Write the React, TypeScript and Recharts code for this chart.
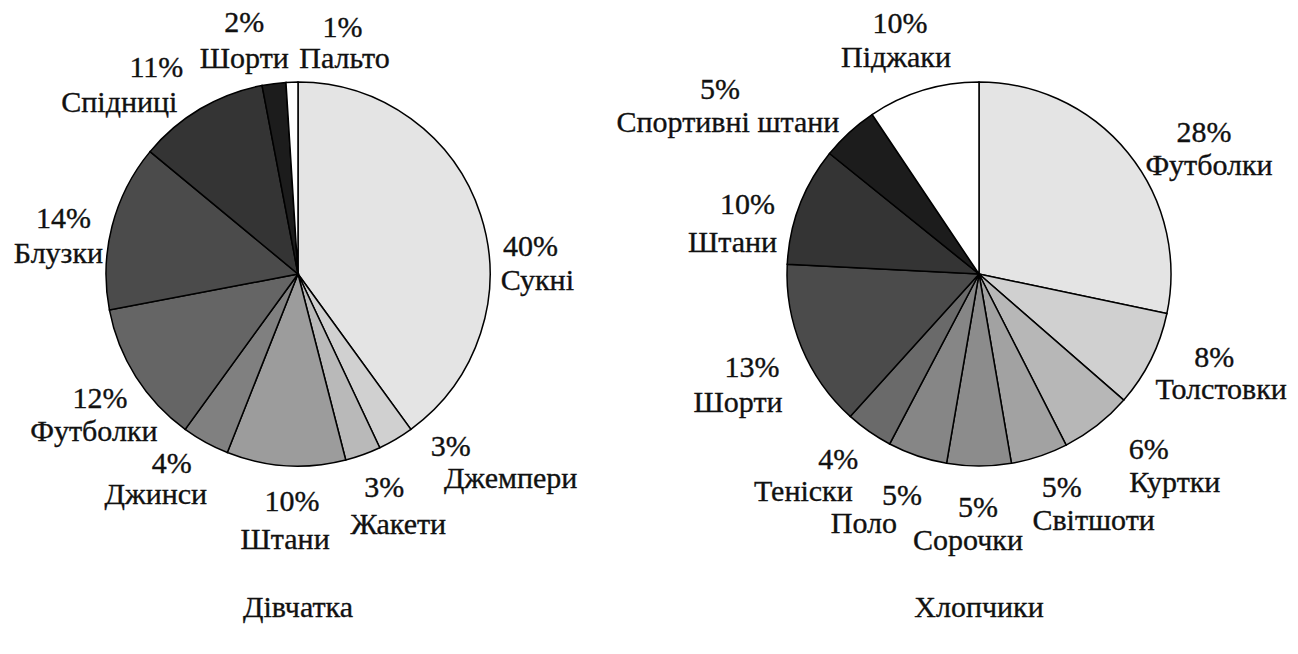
import React from 'react';
import { PieChart, Pie, Cell } from 'recharts';

// ---- Data: girls (Дівчатка) ----
const girlsCategories = ['Сукні', 'Джемпери', 'Жакети', 'Штани', 'Джинси', 'Футболки', 'Блузки', 'Спідниці', 'Шорти', 'Пальто'];
const girlsValues = [40, 3, 3, 10, 4, 12, 14, 11, 2, 1];
const girlsPercentLabels = ['40%', '3%', '3%', '10%', '4%', '12%', '14%', '11%', '2%', '1%'];

// ---- Data: boys (Хлопчики) ----
const boysCategories = ['Футболки', 'Толстовки', 'Куртки', 'Світшоти', 'Сорочки', 'Поло', 'Теніски', 'Шорти', 'Штани', 'Спортивні штани', 'Піджаки'];
const boysValues = [28.3, 8.1, 6.1, 4.8, 5.4, 5.0, 4.0, 14.1, 10.0, 4.8, 9.4];
const boysPercentLabels = ['28%', '8%', '6%', '5%', '5%', '5%', '4%', '13%', '10%', '5%', '10%'];

const chartTitles = ['Дівчатка', 'Хлопчики'];

// ---- Styles ----
const girlsColors = ['#e4e4e4', '#d0d0d0', '#b9b9b9', '#9c9c9c', '#808080', '#656565', '#4b4b4b', '#343434', '#1c1c1c', '#ffffff'];
const boysColors = ['#e4e4e4', '#d0d0d0', '#b7b7b7', '#a2a2a2', '#8c8c8c', '#868686', '#6a6a6a', '#4b4b4b', '#343434', '#1c1c1c', '#ffffff'];

// label nudges relative to a point on the slice's mid-angle, [pctDx, pctDy, nameDx, nameDy]
const girlsLabelLayout = [
  [7, 55, 14, 89], [32, -22, 92, 10], [6, 0, 20, 37], [9, 0, 2, 38], [-12, -9, -28, 22],
  [2, 7, -4, 40], [-5, 13, -10, 48], [-21, 7, -58, 42], [-24, -7, -24, 29], [52, 0, 54, 31],
];
const boysLabelLayout = [
  [41, 17, 46, 50], [23, -13, 30, 19], [24, -2, 50, 31], [8, -2, 40, 31], [-1, 6, -11, 39],
  [-1, 6.5, -39, 34.5], [-5, 1, -40, 33], [-8, 12, -22, 47], [-10, 24, -25, 62], [-99, 0, -91, 33], [-10, -14, -14, 20],
];

const FONT = 'Liberation Serif';
const FONT_SIZE = 30;
const W = 1298;
const H = 654;

const girlsData = girlsCategories.map((name, i) => ({ name, value: girlsValues[i] }));
const boysData = boysCategories.map((name, i) => ({ name, value: boysValues[i] }));

const Txt = ({ x, y, children }: { x: number; y: number; children: React.ReactNode }) => (
  <text
    x={x}
    y={y}
    textAnchor="middle"
    fill="#111"
    stroke="#111"
    strokeWidth={0.35}
    fontFamily={FONT}
    fontSize={FONT_SIZE}
  >
    {children}
  </text>
);

const makeLabel = (pcts: string[], layout: number[][]) => (props: any) => {
  const { cx, cy, midAngle, outerRadius, index, name } = props;
  const RAD = Math.PI / 180;
  const d = outerRadius + 45;
  const ax = cx + d * Math.cos(-midAngle * RAD);
  const ay = cy + d * Math.sin(-midAngle * RAD);
  const [px, py, nx, ny] = layout[index];
  return (
    <g key={`lbl-${index}`}>
      <Txt x={ax + px} y={ay + py}>{pcts[index]}</Txt>
      <Txt x={ax + nx} y={ay + ny}>{name}</Txt>
    </g>
  );
};

export default function App() {
  return (
    <div style={{ position: 'absolute', left: 0, top: 0, width: W, height: H, background: '#fff' }}>
      <PieChart width={W} height={H} margin={{ top: 0, right: 0, bottom: 0, left: 0 }}>
        <Pie
          data={girlsData}
          dataKey="value"
          nameKey="name"
          cx={298}
          cy={274}
          outerRadius={192}
          startAngle={90}
          endAngle={-270}
          stroke="#000"
          strokeWidth={1.5}
          labelLine={false}
          label={makeLabel(girlsPercentLabels, girlsLabelLayout)}
          isAnimationActive={false}
        >
          {girlsData.map((_, i) => (
            <Cell key={`g-${i}`} fill={girlsColors[i]} />
          ))}
        </Pie>
        <Pie
          data={boysData}
          dataKey="value"
          nameKey="name"
          cx={979}
          cy={274}
          outerRadius={192}
          startAngle={90}
          endAngle={-270}
          stroke="#000"
          strokeWidth={1.5}
          labelLine={false}
          label={makeLabel(boysPercentLabels, boysLabelLayout)}
          isAnimationActive={false}
        >
          {boysData.map((_, i) => (
            <Cell key={`b-${i}`} fill={boysColors[i]} />
          ))}
        </Pie>
      </PieChart>
      <svg width={W} height={H} style={{ position: 'absolute', left: 0, top: 0, pointerEvents: 'none' }}>
        <Txt x={298} y={617}>{chartTitles[0]}</Txt>
        <Txt x={979} y={617}>{chartTitles[1]}</Txt>
      </svg>
    </div>
  );
}
